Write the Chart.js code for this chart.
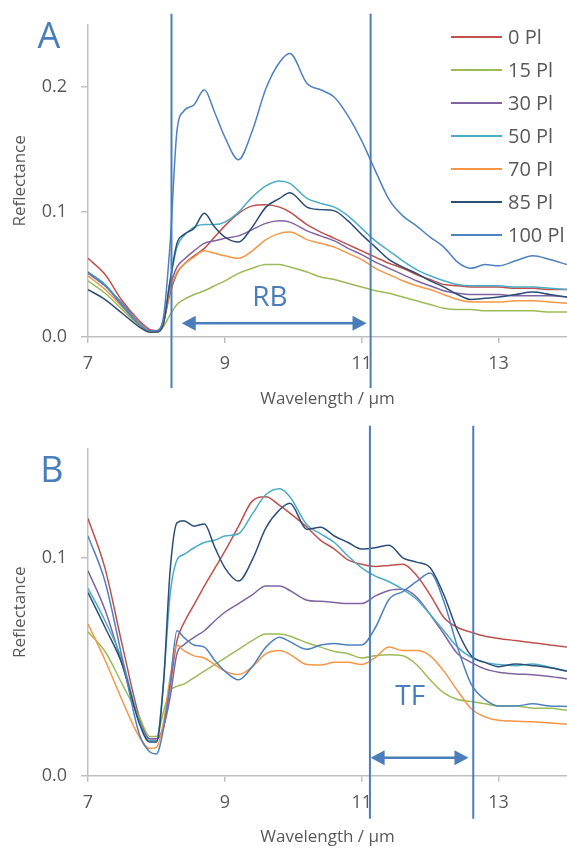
<!DOCTYPE html>
<html lang="en">
<head>
<meta charset="UTF-8">
<title>Reflectance spectra</title>
<style>
body { margin: 0; background: #fff; }
.panel { position: absolute; left: 0; width: 567px; height: 424px; }
#panelA { top: 0; }
#panelB { top: 424px; }
</style>
</head>
<body>
<div class="panel" id="panelA"><canvas id="chartA" width="567" height="424"></canvas></div>
<div class="panel" id="panelB"><canvas id="chartB" width="567" height="424"></canvas></div>
<script src="https://cdn.jsdelivr.net/npm/chart.js"></script>
<script>
// wavelength grid (µm), shared by both panels
const wavelength = [7.0, 7.25, 7.5, 7.75, 7.9, 8.0, 8.1, 8.2, 8.3, 8.4, 8.55, 8.7, 8.85, 9.0, 9.2, 9.4, 9.6, 9.8, 9.95,
  10.2, 10.4, 10.6, 10.8, 11.0, 11.2, 11.4, 11.6, 11.8, 12.0, 12.2, 12.4, 12.6, 12.8, 13.0, 13.25, 13.5, 13.75, 14.0];

const seriesNames = ['0 Pl', '15 Pl', '30 Pl', '50 Pl', '70 Pl', '85 Pl', '100 Pl'];
const seriesColors = ['#C0504D', '#9BBB59', '#8064A2', '#4BACC6', '#F79646', '#2C4D75', '#4F81BD'];

// panel A
const specA0   = [0.063,0.050,0.029,0.013,0.006,0.005,0.012,0.035,0.051,0.058,0.065,0.071,0.080,0.089,0.099,0.105,0.106,0.104,0.100,0.090,0.084,0.079,0.074,0.069,0.064,0.059,0.055,0.050,0.046,0.042,0.041,0.040,0.040,0.040,0.039,0.039,0.038,0.038];
const specA15  = [0.045,0.035,0.022,0.009,0.004,0.004,0.008,0.018,0.026,0.030,0.034,0.037,0.041,0.045,0.051,0.055,0.058,0.058,0.056,0.052,0.048,0.046,0.043,0.040,0.037,0.035,0.032,0.029,0.026,0.023,0.022,0.022,0.021,0.021,0.021,0.021,0.020,0.020];
const specA30  = [0.051,0.041,0.027,0.011,0.005,0.005,0.011,0.040,0.056,0.062,0.069,0.075,0.077,0.079,0.081,0.086,0.091,0.093,0.092,0.085,0.081,0.077,0.071,0.066,0.060,0.055,0.050,0.045,0.041,0.037,0.035,0.034,0.034,0.034,0.033,0.033,0.033,0.032];
const specA50  = [0.052,0.042,0.026,0.011,0.005,0.005,0.012,0.045,0.072,0.081,0.088,0.090,0.090,0.092,0.100,0.112,0.121,0.125,0.123,0.111,0.107,0.104,0.097,0.087,0.077,0.069,0.061,0.054,0.049,0.045,0.042,0.041,0.041,0.041,0.040,0.040,0.039,0.038];
const specA70  = [0.049,0.038,0.024,0.010,0.004,0.004,0.010,0.038,0.052,0.058,0.064,0.069,0.067,0.065,0.063,0.069,0.078,0.083,0.084,0.078,0.075,0.072,0.067,0.062,0.055,0.050,0.045,0.041,0.038,0.034,0.030,0.028,0.028,0.028,0.029,0.029,0.028,0.027];
const specA85  = [0.038,0.030,0.019,0.008,0.004,0.004,0.010,0.045,0.075,0.082,0.087,0.099,0.088,0.080,0.076,0.088,0.104,0.111,0.1155,0.104,0.102,0.101,0.093,0.082,0.072,0.062,0.056,0.051,0.045,0.040,0.034,0.030,0.031,0.032,0.034,0.036,0.034,0.032];
const specA100 = [0.052,0.041,0.025,0.010,0.005,0.005,0.015,0.075,0.165,0.181,0.186,0.198,0.180,0.160,0.142,0.165,0.199,0.220,0.227,0.203,0.198,0.192,0.177,0.157,0.133,0.110,0.097,0.089,0.080,0.072,0.060,0.055,0.058,0.057,0.061,0.065,0.062,0.058];

// panel B
const specB0   = [0.118,0.095,0.060,0.027,0.017,0.017,0.022,0.041,0.062,0.070,0.0785,0.087,0.095,0.103,0.1145,0.126,0.128,0.124,0.1205,0.114,0.108,0.104,0.099,0.097,0.096,0.0965,0.097,0.092,0.083,0.0726,0.068,0.0658,0.064,0.063,0.062,0.061,0.060,0.059];
const specB15  = [0.066,0.057,0.042,0.027,0.018,0.018,0.029,0.039,0.041,0.042,0.045,0.048,0.051,0.054,0.058,0.062,0.065,0.065,0.064,0.061,0.059,0.057,0.056,0.054,0.055,0.0555,0.055,0.051,0.044,0.038,0.035,0.034,0.033,0.032,0.032,0.031,0.031,0.030];
const specB30  = [0.094,0.076,0.051,0.025,0.017,0.017,0.022,0.036,0.056,0.060,0.0635,0.0665,0.071,0.075,0.079,0.083,0.087,0.087,0.085,0.0805,0.080,0.0795,0.079,0.079,0.0825,0.085,0.0855,0.082,0.074,0.065,0.056,0.052,0.049,0.0475,0.0467,0.0463,0.0455,0.0444];
const specB50  = [0.086,0.071,0.053,0.025,0.016,0.016,0.042,0.083,0.099,0.1015,0.1046,0.107,0.108,0.110,0.111,0.120,0.129,0.1317,0.128,0.115,0.111,0.107,0.1008,0.0954,0.0916,0.089,0.0855,0.081,0.074,0.0665,0.059,0.0543,0.052,0.051,0.0505,0.0513,0.0498,0.048];
const specB70  = [0.0696,0.053,0.0345,0.0178,0.0125,0.013,0.024,0.045,0.060,0.0574,0.055,0.054,0.051,0.048,0.0464,0.050,0.056,0.0574,0.0557,0.051,0.0508,0.052,0.052,0.051,0.0543,0.059,0.0574,0.0574,0.055,0.048,0.039,0.0307,0.027,0.0254,0.025,0.0247,0.0242,0.0236];
const specB85  = [0.084,0.068,0.051,0.024,0.0155,0.0155,0.041,0.094,0.116,0.117,0.1145,0.1155,0.105,0.0954,0.0893,0.099,0.1137,0.122,0.125,0.113,0.114,0.110,0.107,0.104,0.1046,0.1058,0.100,0.098,0.0954,0.083,0.0665,0.055,0.052,0.050,0.0513,0.0505,0.0495,0.048];
const specB100 = [0.110,0.089,0.054,0.019,0.011,0.010,0.021,0.042,0.0665,0.0635,0.060,0.059,0.053,0.048,0.044,0.050,0.059,0.0635,0.0615,0.058,0.060,0.0607,0.060,0.060,0.068,0.081,0.0845,0.089,0.093,0.080,0.059,0.042,0.035,0.032,0.032,0.033,0.032,0.0318];

const xTicks = [7, 9, 11, 13];
const yTicksA = [0, 0.1, 0.2];
const yTicksB = [0, 0.1];

const accent = '#4A7EBB';
const axisGray = '#BFBFBF';
const textGray = '#595959';

Chart.defaults.font.family = '"Open Sans", sans-serif';
Chart.defaults.color = textGray;

function buildDatasets(values) {
  return values.map((vals, i) => ({
    label: seriesNames[i],
    data: wavelength.map((w, k) => ({ x: w, y: vals[k] })),
    borderColor: seriesColors[i],
    borderWidth: 1.5,
    pointRadius: 0,
    fill: false,
    cubicInterpolationMode: 'monotone',
    order: values.length - i   // last series drawn on top, like Excel
  }));
}

// vertical band lines, double arrow, band label, panel letter and (optional) legend
const decorPlugin = {
  id: 'decor',
  afterDatasetsDraw(chart, args, o) {
    const { ctx, chartArea: ca } = chart;
    const x = chart.scales.x, y = chart.scales.y;
    ctx.save();
    ctx.strokeStyle = accent;
    ctx.fillStyle = accent;

    ctx.lineWidth = 2;
    o.band.forEach(v => {
      const px = x.getPixelForValue(v);
      ctx.beginPath();
      ctx.moveTo(px, ca.top - o.lineAbove);
      ctx.lineTo(px, ca.bottom + o.lineBelow);
      ctx.stroke();
    });

    const ay = y.getPixelForValue(o.arrowY);
    const x1 = x.getPixelForValue(o.arrow[0]);
    const x2 = x.getPixelForValue(o.arrow[1]);
    const head = 14, half = 7.5;
    ctx.lineWidth = 2.5;
    ctx.beginPath();
    ctx.moveTo(x1 + head - 1, ay);
    ctx.lineTo(x2 - head + 1, ay);
    ctx.stroke();
    ctx.beginPath();
    ctx.moveTo(x1, ay); ctx.lineTo(x1 + head, ay - half); ctx.lineTo(x1 + head, ay + half); ctx.closePath();
    ctx.moveTo(x2, ay); ctx.lineTo(x2 - head, ay - half); ctx.lineTo(x2 - head, ay + half); ctx.closePath();
    ctx.fill();

    ctx.textAlign = 'center';
    ctx.textBaseline = 'middle';
    ctx.font = '28px "Open Sans"';
    ctx.fillText(o.label, x.getPixelForValue(o.labelAt[0]), y.getPixelForValue(o.labelAt[1]));

    ctx.font = '36px "Open Sans"';
    ctx.fillText(o.letter, o.letterAt[0], o.letterAt[1]);

    if (o.legend) {
      ctx.textAlign = 'left';
      ctx.font = '20px "Open Sans"';
      chart.data.datasets.forEach((ds, i) => {
        const ly = o.legend.top + i * o.legend.step;
        ctx.strokeStyle = ds.borderColor;
        ctx.lineWidth = 2;
        ctx.beginPath();
        ctx.moveTo(o.legend.x0, ly);
        ctx.lineTo(o.legend.x1, ly);
        ctx.stroke();
        ctx.fillStyle = textGray;
        ctx.fillText(ds.label, o.legend.textX, ly + 1);
      });
    }
    ctx.restore();
  }
};

function makeChart(id, values, cfg) {
  return new Chart(document.getElementById(id), {
    type: 'line',
    data: { datasets: buildDatasets(values) },
    plugins: [decorPlugin],
    options: {
      responsive: false,
      animation: false,
      events: [],
      layout: { padding: { top: cfg.padTop, right: 0, bottom: 0, left: 0 } },
      plugins: { legend: { display: false }, tooltip: { enabled: false }, decor: cfg.decor },
      scales: {
        x: {
          type: 'linear', min: 7, max: 14,
          afterBuildTicks: s => { s.ticks = xTicks.map(v => ({ value: v })); },
          afterFit: s => { s.height = cfg.xHeight; },
          ticks: { font: { size: 18 }, color: textGray, padding: 10, maxRotation: 0, callback: v => String(v) },
          grid: { drawOnChartArea: false, drawTicks: true, tickLength: 6, color: axisGray, lineWidth: 1.5 },
          border: { color: axisGray, width: 1.5 },
          title: { display: true, text: 'Wavelength / µm', font: { size: 17 }, color: textGray,
                   padding: { top: 0, bottom: cfg.titlePad } }
        },
        y: {
          type: 'linear', min: 0, max: cfg.yMax,
          afterBuildTicks: s => { s.ticks = cfg.yTicks.map(v => ({ value: v })); },
          afterFit: s => { s.width = 88; },
          ticks: { font: { size: 18 }, color: textGray, padding: 14, callback: v => v.toFixed(1) },
          grid: { drawOnChartArea: false, drawTicks: true, tickLength: 7, color: axisGray, lineWidth: 1.5 },
          border: { color: axisGray, width: 1.5 },
          title: { display: true, text: 'Reflectance', font: { size: 17 }, color: textGray,
                   padding: { top: 10, bottom: 0 } }
        }
      }
    }
  });
}

makeChart('chartA', [specA0, specA15, specA30, specA50, specA70, specA85, specA100], {
  padTop: 23, xHeight: 87, titlePad: 15, yMax: 0.25, yTicks: yTicksA,
  decor: {
    band: [8.22, 11.13], lineAbove: 11, lineBelow: 51,
    arrow: [8.37, 11.07], arrowY: 0.011,
    label: 'RB', labelAt: [9.66, 0.031],
    letter: 'A', letterAt: [49, 38],
    legend: { x0: 451, x1: 502, textX: 508, top: 37, step: 33 }
  }
});

makeChart('chartB', [specB0, specB15, specB30, specB50, specB70, specB85, specB100], {
  padTop: 24, xHeight: 72.3, titlePad: 1, yMax: 0.15, yTicks: yTicksB,
  decor: {
    band: [11.12, 12.63], lineAbove: 23, lineBelow: 43,
    arrow: [11.13, 12.56], arrowY: 0.0082,
    label: 'TF', labelAt: [11.71, 0.036],
    letter: 'B', letterAt: [52, 48]
  }
});
</script>
</body>
</html>
